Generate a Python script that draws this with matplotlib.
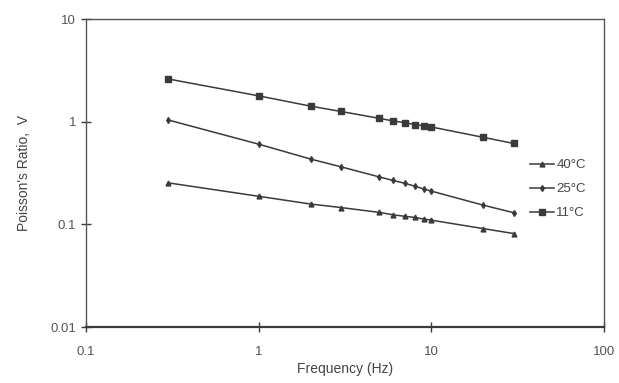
import numpy as np
import matplotlib.pyplot as plt

plt.rcParams['font.family'] = ['Liberation Sans', 'DejaVu Sans']

# -----------------------------
# Data
# -----------------------------
freq = [0.3, 1, 2, 3, 5, 6, 7, 8, 9, 10, 20, 30]
nu_40 = [0.254, 0.188, 0.158, 0.146, 0.131, 0.124, 0.120, 0.117, 0.113, 0.110, 0.091, 0.0815]
nu_25 = [1.04, 0.605, 0.433, 0.364, 0.290, 0.268, 0.252, 0.236, 0.222, 0.211, 0.154, 0.130]
nu_11 = [2.61, 1.79, 1.42, 1.26, 1.08, 1.02, 0.98, 0.94, 0.915, 0.89, 0.705, 0.615]

labels = ["40\u00b0C", "25\u00b0C", "11\u00b0C"]
x_ticks = [0.1, 1, 10, 100]
x_ticklabels = ["0.1", "1", "10", "100"]
y_ticks = [0.01, 0.1, 1, 10]
y_ticklabels = ["0.01", "0.1", "1", "10"]

# -----------------------------
# Plot
# -----------------------------
fig = plt.figure(figsize=(6.19, 3.83), dpi=100)
ax = fig.add_axes([0.139, 0.146, 0.837, 0.804])

col = '#3a3a3a'
ax.plot(freq, nu_40, '-', color=col, lw=1.1, marker='^', ms=3.5, label=labels[0])
ax.plot(freq, nu_25, '-', color=col, lw=1.1, marker='d', ms=3, label=labels[1])
ax.plot(freq, nu_11, '-', color=col, lw=1.1, marker='s', ms=4, label=labels[2])

ax.set_xscale('log')
ax.set_yscale('log')
ax.set_xlim(0.1, 100)
ax.set_ylim(0.01, 10)
ax.set_xticks(x_ticks)
ax.set_xticklabels(x_ticklabels)
ax.set_yticks(y_ticks)
ax.set_yticklabels(y_ticklabels)
ax.minorticks_off()
ax.tick_params(direction='inout', length=7, width=1, colors=col, labelsize=9.5,
               labelcolor='#555555')
ax.tick_params(axis='x', pad=10)
for s in ax.spines.values():
    s.set_color('#555555')
    s.set_linewidth(1)
ax.spines['bottom'].set_linewidth(1.6)
ax.spines['bottom'].set_color(col)

ax.set_xlabel("Frequency (Hz)", fontsize=10, color='#444444', labelpad=3)
ax.set_ylabel("Poisson's Ratio,  V", fontsize=10, color='#444444', labelpad=14)

ax.legend(loc='center left', bbox_to_anchor=(0.857, 0.448), frameon=False,
          borderaxespad=0, borderpad=0,
          fontsize=9.5, handlelength=1.8, handletextpad=0.2, labelspacing=0.9,
          labelcolor='#444444')

fig.savefig("out.png", dpi=100)
